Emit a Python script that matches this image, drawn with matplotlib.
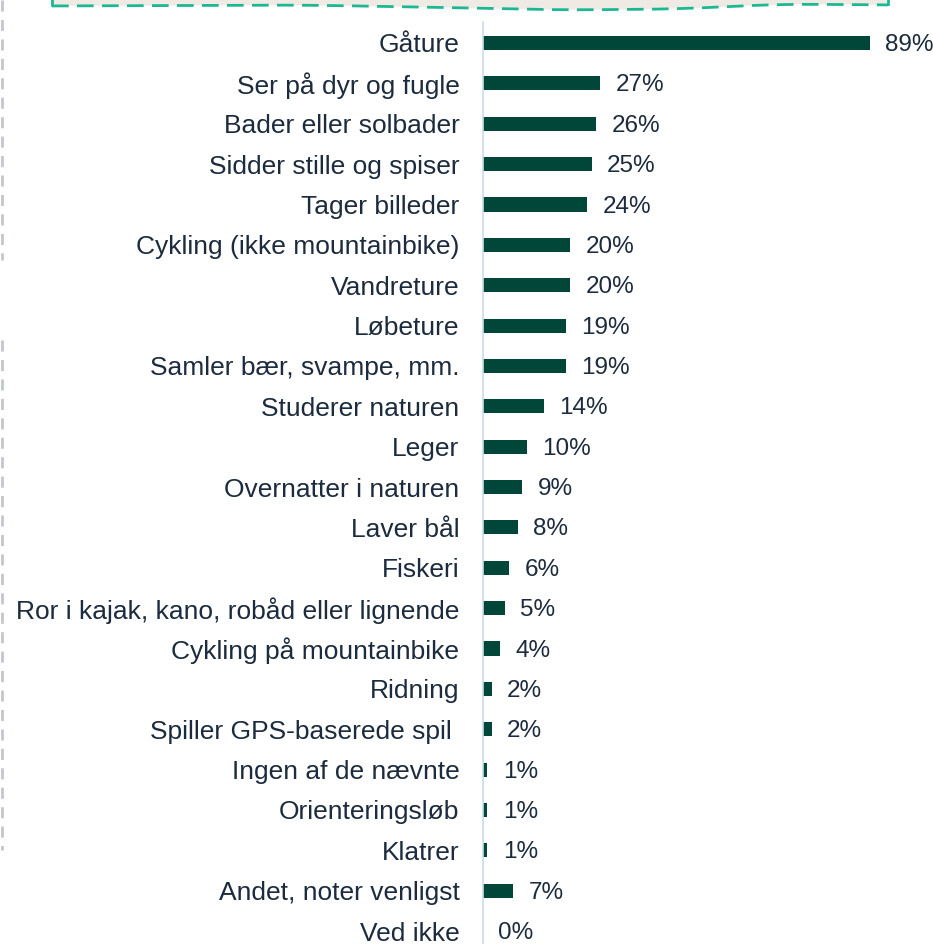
import numpy as np
import matplotlib
matplotlib.use('Agg')
import matplotlib.pyplot as plt
from matplotlib.lines import Line2D
from matplotlib.patches import Polygon

activities = ['Gåture', 'Ser på dyr og fugle', 'Bader eller solbader', 'Sidder stille og spiser',
              'Tager billeder', 'Cykling (ikke mountainbike)', 'Vandreture', 'Løbeture',
              'Samler bær, svampe, mm.', 'Studerer naturen', 'Leger', 'Overnatter i naturen',
              'Laver bål', 'Fiskeri', 'Ror i kajak, kano, robåd eller lignende',
              'Cykling på mountainbike', 'Ridning', 'Spiller GPS-baserede spil ',
              'Ingen af de nævnte', 'Orienteringsløb', 'Klatrer', 'Andet, noter venligst', 'Ved ikke']
shares = [89, 27, 26, 25, 24, 20, 20, 19, 19, 14, 10, 9, 8, 6, 5, 4, 2, 2, 1, 1, 1, 7, 0]

bar_color = '#00473a'
text_color = '#1c2b3d'

plt.rcParams['font.family'] = ['Liberation Sans', 'DejaVu Sans']

W, H = 933, 944
fig = plt.figure(figsize=(W / 100, H / 100), dpi=100)

# axes placed in pixel terms: axis line at x=483, top at y=22
left, top = 483, 22
ax = fig.add_axes([left / W, 0, (W - left) / W, (H - top) / H])
ypos = np.arange(len(activities))
ax.barh(ypos, shares, height=0.35, color=bar_color)
ax.set_xlim(0, (W - left) / 4.35)
ax.set_ylim(22.32, -0.52)

for y, v in zip(ypos, shares):
    ax.annotate(f'{v}%', (v, y), xytext=(11, -1.5), textcoords='offset points',
                va='center', ha='left', fontsize=17.5, color=text_color)

ax.set_yticks(ypos)
ax.set_yticklabels(activities, fontsize=19, color=text_color)
ax.tick_params(axis='y', length=0, pad=17)
ax.set_xticks([])
for s in ['top', 'right', 'bottom']:
    ax.spines[s].set_visible(False)
ax.spines['left'].set_color('#c9dcee')
ax.spines['left'].set_linewidth(1.2)

# decorative bits from the surrounding slide (pixel coords, y from top)
bx = np.linspace(52, 888, 300)
wave = np.interp(bx, [52, 300, 420, 560, 680, 780, 888], [6, 5, 7, 10, 9, 4, 5])
wave = np.convolve(np.pad(wave, 15, mode='edge'), np.ones(31) / 31, mode='valid')
verts = np.column_stack([np.r_[bx, bx[::-1]], np.r_[wave, np.zeros_like(bx)]])
verts = np.column_stack([verts[:, 0] / W, 1 - verts[:, 1] / H])
box = Polygon(verts, closed=True, transform=fig.transFigure, facecolor='#efebe4', edgecolor='none')
fig.add_artist(box)
fig.add_artist(Line2D(bx / W, 1 - wave / H, transform=fig.transFigure,
                      color='#1db893', lw=2, dashes=(6, 3)))
fig.add_artist(Line2D([52 / W, 52 / W], [1, 1 - 5 / H], transform=fig.transFigure,
                      color='#1db893', lw=2))
fig.add_artist(Line2D([888 / W, 888 / W], [1, 1 - 4 / H], transform=fig.transFigure,
                      color='#1db893', lw=2))
fig.add_artist(Line2D([2 / W, 2 / W], [1, 1 - 260 / H], transform=fig.transFigure,
                      color='#c3c7cc', lw=2, dashes=(4, 3)))
fig.add_artist(Line2D([2 / W, 2 / W], [1 - 340 / H, 1 - 850 / H], transform=fig.transFigure,
                      color='#c3c7cc', lw=2, dashes=(4, 3)))

fig.savefig('out.png', dpi=100, facecolor='white')
